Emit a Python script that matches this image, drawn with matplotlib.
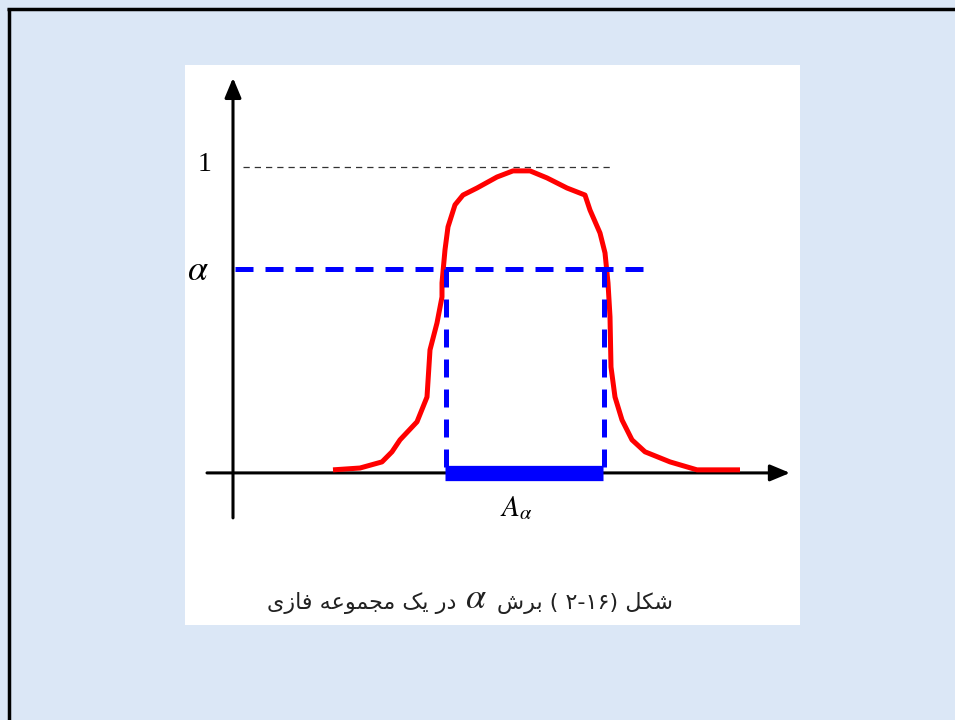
import matplotlib
matplotlib.use("Agg")
import matplotlib.pyplot as plt

# membership curve (x in arbitrary units, y = membership)
curve_x = [2.0, 2.54, 2.98, 3.18, 3.34, 3.68, 3.88, 3.94, 4.08, 4.18, 4.18, 4.24,
           4.30, 4.44, 4.60, 4.88, 5.28, 5.60, 5.94, 6.28, 6.68, 7.04, 7.14, 7.34,
           7.44, 7.50, 7.54, 7.56, 7.64, 7.78, 7.98, 8.24, 8.74, 9.28, 10.14]
curve_y = [0.01, 0.016, 0.036, 0.069, 0.108, 0.167, 0.248, 0.402, 0.49, 0.575, 0.621,
           0.729, 0.804, 0.876, 0.908, 0.931, 0.967, 0.987, 0.987, 0.964, 0.931, 0.908,
           0.859, 0.784, 0.719, 0.621, 0.51, 0.346, 0.248, 0.173, 0.108, 0.069, 0.036,
           0.01, 0.01]

alpha_level = 0.667
cut_start = 4.26
cut_end = 7.42
x_axis_range = [-0.52, 11.14]
y_axis_range = [-0.147, 1.291]
one_line_range = [0.2, 7.58]
alpha_line_range = [0.04, 8.3]

label_one = "1"
label_alpha = r"$\alpha$"
label_cut = r"$A_\alpha$"

# caption words in reading order (right to left)
caption_right = ["شکل", "( ۲-۱۶)", "برش"]
caption_left = ["در", "یک", "مجموعه", "فازی"]

# arabic presentation forms: isolated, final, initial, medial
FORMS = {
    "ش": "\uFEB5\uFEB6\uFEB7\uFEB8",
    "ک": "\uFB8E\uFB8F\uFB90\uFB91",
    "ل": "\uFEDD\uFEDE\uFEDF\uFEE0",
    "ب": "\uFE8F\uFE90\uFE91\uFE92",
    "ی": "\uFBFC\uFBFD\uFBFE\uFBFF",
    "م": "\uFEE1\uFEE2\uFEE3\uFEE4",
    "ج": "\uFE9D\uFE9E\uFE9F\uFEA0",
    "ع": "\uFEC9\uFECA\uFECB\uFECC",
    "ه": "\uFEE9\uFEEA\uFEEB\uFEEC",
    "ف": "\uFED1\uFED2\uFED3\uFED4",
    "ر": "\uFEAD\uFEAE",
    "د": "\uFEA9\uFEAA",
    "و": "\uFEED\uFEEE",
    "ا": "\uFE8D\uFE8E",
    "ز": "\uFEAF\uFEB0",
}


def shape_word(word):
    if not any(c in FORMS for c in word):
        return word
    out = []
    for i, c in enumerate(word):
        if c not in FORMS:
            out.append(c)
            continue
        prev = word[i - 1] if i > 0 else None
        nxt = word[i + 1] if i + 1 < len(word) else None
        joins_prev = prev in FORMS and len(FORMS[prev]) == 4
        joins_next = len(FORMS[c]) == 4 and nxt in FORMS
        if joins_prev and joins_next:
            out.append(FORMS[c][3])
        elif joins_prev:
            out.append(FORMS[c][1])
        elif joins_next:
            out.append(FORMS[c][2])
        else:
            out.append(FORMS[c][0])
    return "".join(reversed(out))


def visual(words):
    return " ".join(shape_word(w) for w in reversed(words))


fig = plt.figure(figsize=(9.55, 7.2), dpi=100, facecolor="#dbe7f6")

# background layer in pixel coordinates
bg = fig.add_axes([0, 0, 1, 1])
bg.set_xlim(0, 955)
bg.set_ylim(720, 0)
bg.axis("off")
bg.add_patch(plt.Rectangle((185, 65), 615, 560, facecolor="white", edgecolor="none"))
bg.plot([7, 955], [9, 9], color="black", lw=2.5, solid_capstyle="butt")
bg.plot([8.5, 8.5], [8, 720], color="black", lw=2.5, solid_capstyle="butt")

bg.text(456, 603, visual(caption_left), ha="right", va="center",
        fontsize=16, family="DejaVu Sans", color="#222222")
bg.text(497, 603, visual(caption_right), ha="left", va="center",
        fontsize=16, family="DejaVu Sans", color="#222222")
bg.text(476, 598, label_alpha, ha="center", va="center", fontsize=26,
        math_fontfamily="stix", color="#222222")

ax = fig.add_axes([185 / 955, 95 / 720, 615 / 955, 560 / 720])
ax.set_xlim(-0.96, 11.34)
ax.set_ylim(-0.497, 1.333)
ax.axis("off")

arrow = dict(arrowstyle="-|>,head_length=0.6,head_width=0.25", lw=2.2,
             color="black", mutation_scale=20, shrinkA=0, shrinkB=0)
ax.annotate("", xy=(x_axis_range[1], 0), xytext=(x_axis_range[0], 0), arrowprops=arrow)
ax.annotate("", xy=(0, y_axis_range[1]), xytext=(0, y_axis_range[0]), arrowprops=arrow)

ax.plot(one_line_range, [1, 1], color="#333333", lw=0.9, dashes=(5, 4))

ax.plot(curve_x, curve_y, color="#ff0000", lw=3.6, solid_joinstyle="round",
        solid_capstyle="butt", zorder=3)

ax.plot(alpha_line_range, [alpha_level, alpha_level], color="#0000ff", lw=3.6,
        dashes=(3.6, 2.4), dash_capstyle="butt", zorder=4)
for xc in (cut_start, cut_end):
    ax.plot([xc, xc], [alpha_level, 0.02], color="#0000ff", lw=3.6,
            dashes=(3.6, 2.4), dash_capstyle="butt", zorder=4)
ax.plot([cut_start - 0.02, cut_end - 0.02], [0, 0], color="#0000ff", lw=11,
        solid_capstyle="butt", zorder=5)

ax.text(-0.56, 1.007, label_one, ha="center", va="center", fontsize=20,
        family="Liberation Serif")
ax.text(-0.7, 0.663, label_alpha, ha="center", va="center", fontsize=26,
        math_fontfamily="stix")
ax.text(5.66, -0.114, label_cut, ha="center", va="center", fontsize=21,
        math_fontfamily="stix")

fig.savefig("out.png", dpi=100, facecolor=fig.get_facecolor())
